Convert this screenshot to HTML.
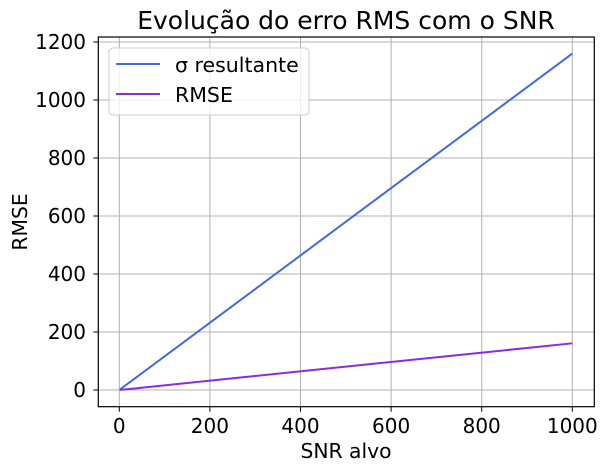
<!DOCTYPE html>
<html><head><meta charset="utf-8"><style>
body{margin:0;background:#fff;}
svg{display:block;font-family:"DejaVu Sans","Liberation Sans",sans-serif;}
</style></head><body>
<svg id="chart" width="608" height="472">
<rect x="0" y="0" width="608" height="472" fill="#fff"/>
<g id="grid"></g>
<g id="series"></g>
<rect x="98.3" y="37" width="496" height="369.7" fill="none" stroke="#000" stroke-width="1.2"/>
<g id="ticks"></g>
<text x="346" y="29" font-size="25" text-anchor="middle">Evolução do erro RMS com o SNR</text>
<text x="346" y="458" font-size="20.3" text-anchor="middle">SNR alvo</text>
<text x="0" y="0" font-size="20.3" text-anchor="middle" transform="translate(27,222) rotate(-90)">RMSE</text>
<g>
<rect x="109" y="48" width="200" height="67" rx="4" fill="#fff" fill-opacity="0.8" stroke="#ccc"/>
<line x1="116" y1="64" x2="160" y2="64" stroke="#4169e1" stroke-width="2"/>
<text x="175" y="72" font-size="20.5">σ resultante</text>
<line x1="116" y1="94" x2="160" y2="94" stroke="#8a2be2" stroke-width="2"/>
<text x="175" y="102" font-size="20.5">RMSE</text>
</g>
</svg>
<script>
const snr = [1, 1000];
const sigmaValues = [1.2, 1160];
const rmseValues = [0.2, 161];
const xTicks = [0, 200, 400, 600, 800, 1000];
const yTicks = [0, 200, 400, 600, 800, 1000, 1200];
const NS = "http://www.w3.org/2000/svg";
function xs(v){return 119.3 + v*(572.3-119.3)/1000;}
function ys(v){return 390 - v*0.29;}
function mk(tag, attrs, parent){const e=document.createElementNS(NS,tag);for(const k in attrs)e.setAttribute(k,attrs[k]);document.getElementById(parent).appendChild(e);return e;}
xTicks.forEach(t=>{
  const g=mk('line',{x1:xs(t),x2:xs(t),y1:37,y2:406.7,stroke:'#b0b0b0','stroke-width':1},'grid');
  
  
  const tk=mk('line',{x1:xs(t),x2:xs(t),y1:406.7,y2:411.7,stroke:'#000','stroke-width':1},'ticks');
  
  
  const tx=mk('text',{x:xs(t),y:433,'font-size':20,'text-anchor':'middle'},'ticks');
  tx.textContent=t;
  
  
});
yTicks.forEach(t=>{
  const g=mk('line',{x1:98.3,x2:594.3,y1:ys(t),y2:ys(t),stroke:'#b0b0b0','stroke-width':1},'grid');
  
  
  const tk=mk('line',{x1:93.3,x2:98.3,y1:ys(t),y2:ys(t),stroke:'#000','stroke-width':1},'ticks');
  
  
  const tx=mk('text',{x:86,y:ys(t)+7,'font-size':20,'text-anchor':'end'},'ticks');
  tx.textContent=t;
  
  
});
function line(vals,color,name){
  const p=mk('polyline',{points:snr.map((s,i)=>xs(s)+','+ys(vals[i])).join(' '),fill:'none',stroke:color,'stroke-width':2},'series');
  
  
}
line(sigmaValues,'#4169e1','sigma-line');
line(rmseValues,'#8a2be2','rmse-line');
</script>
</body></html>
